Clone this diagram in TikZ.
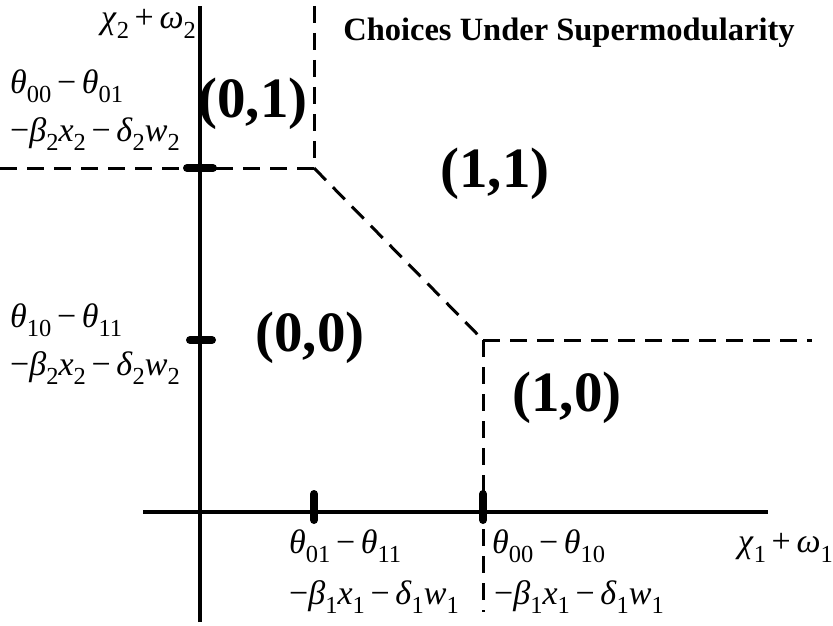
\documentclass[tikz,border=0pt]{standalone}
\usepackage{fontspec}
\usepackage{graphicx}
\setmainfont{Liberation Serif}
\newcommand\sbs[1]{\raisebox{-0.28em}{\scalebox{0.72}{#1}}}
\newcommand\gi[1]{\textit{#1}}
\newcommand\mn{\,−\,}
\begin{document}
\begin{tikzpicture}[x=1pt,y=-1pt,
  axisline/.style={line width=3.5pt},
  tickmark/.style={line width=8pt,line cap=round},
  bound/.style={line width=3pt,dash pattern=on 17pt off 10pt},
  region/.style={inner sep=0pt,font=\fontsize{57}{60}\selectfont\bfseries},
  lab/.style={inner sep=0pt,font=\fontsize{34}{38}\selectfont},
  ttl/.style={inner sep=0pt,font=\fontsize{32.5}{36}\selectfont\bfseries}]
\useasboundingbox (0,0) rectangle (833,626);
% axes
\coordinate (yb) at (200,622);
\coordinate (yt) at (200,6);
\coordinate (xl) at (143,512);
\coordinate (xr) at (768,512);
\draw[axisline] (yb) -- (yt);
\draw[axisline] (xl) -- (xr);
% boundary points
\coordinate (a) at (314,168);
\coordinate (b) at (483,340);
\coordinate (aL) at (0,168);
\coordinate (aT) at (314,6);
\coordinate (bR) at (812,340);
\coordinate (bB) at (483,612);
\draw[bound] (aL) -- (a);
\draw[bound] (aT) -- (a);
\draw[bound] (a) -- (b);
\draw[bound] (b) -- (bR);
\draw[bound] (b) -- (bB);
% ticks
\coordinate (t1a) at (187,168); \coordinate (t1b) at (213,168);
\coordinate (t2a) at (190,340); \coordinate (t2b) at (212,340);
\coordinate (t3a) at (314,494); \coordinate (t3b) at (314,520);
\coordinate (t4a) at (483,494); \coordinate (t4b) at (483,520);
\draw[tickmark] (t1a) -- (t1b);
\draw[tickmark] (t2a) -- (t2b);
\draw[tickmark] (t3a) -- (t3b);
\draw[tickmark] (t4a) -- (t4b);
% regions
\node[region] (r01) at (253,104) {(0,1)};
\node[region] (r11) at (495,174) {(1,1)};
\node[region] (r00) at (310,338) {(0,0)};
\node[region] (r10) at (567,398) {(1,0)};
\node[ttl] (title) at (569,33) {Choices Under Supermodularity};
% axis labels
\node[lab,anchor=east] (ylab) at (196,24) {\gi{χ}\sbs{2}\,+\,\gi{ω}\sbs{2}};
\node[lab,anchor=east] (xlab) at (833,548) {\gi{χ}\sbs{1}\,+\,\gi{ω}\sbs{1}};
% y labels
\node[lab,anchor=west] (y1a) at (10,86) {\gi{θ}\sbs{00}\mn\gi{θ}\sbs{01}};
\node[lab,anchor=west] (y1b) at (10,134) {−\gi{β}\sbs{2}\gi{x}\sbs{2}\mn\gi{δ}\sbs{2}\gi{w}\sbs{2}};
\node[lab,anchor=west] (y2a) at (10,320) {\gi{θ}\sbs{10}\mn\gi{θ}\sbs{11}};
\node[lab,anchor=west] (y2b) at (10,368) {−\gi{β}\sbs{2}\gi{x}\sbs{2}\mn\gi{δ}\sbs{2}\gi{w}\sbs{2}};
% x labels
\node[lab,anchor=west] (x1a) at (289,546) {\gi{θ}\sbs{01}\mn\gi{θ}\sbs{11}};
\node[lab,anchor=west] (x1b) at (289,597) {−\gi{β}\sbs{1}\gi{x}\sbs{1}\mn\gi{δ}\sbs{1}\gi{w}\sbs{1}};
\node[lab,anchor=west] (x2a) at (492,546) {\gi{θ}\sbs{00}\mn\gi{θ}\sbs{10}};
\node[lab,anchor=west] (x2b) at (494,597) {−\gi{β}\sbs{1}\gi{x}\sbs{1}\mn\gi{δ}\sbs{1}\gi{w}\sbs{1}};
\end{tikzpicture}
\end{document}
